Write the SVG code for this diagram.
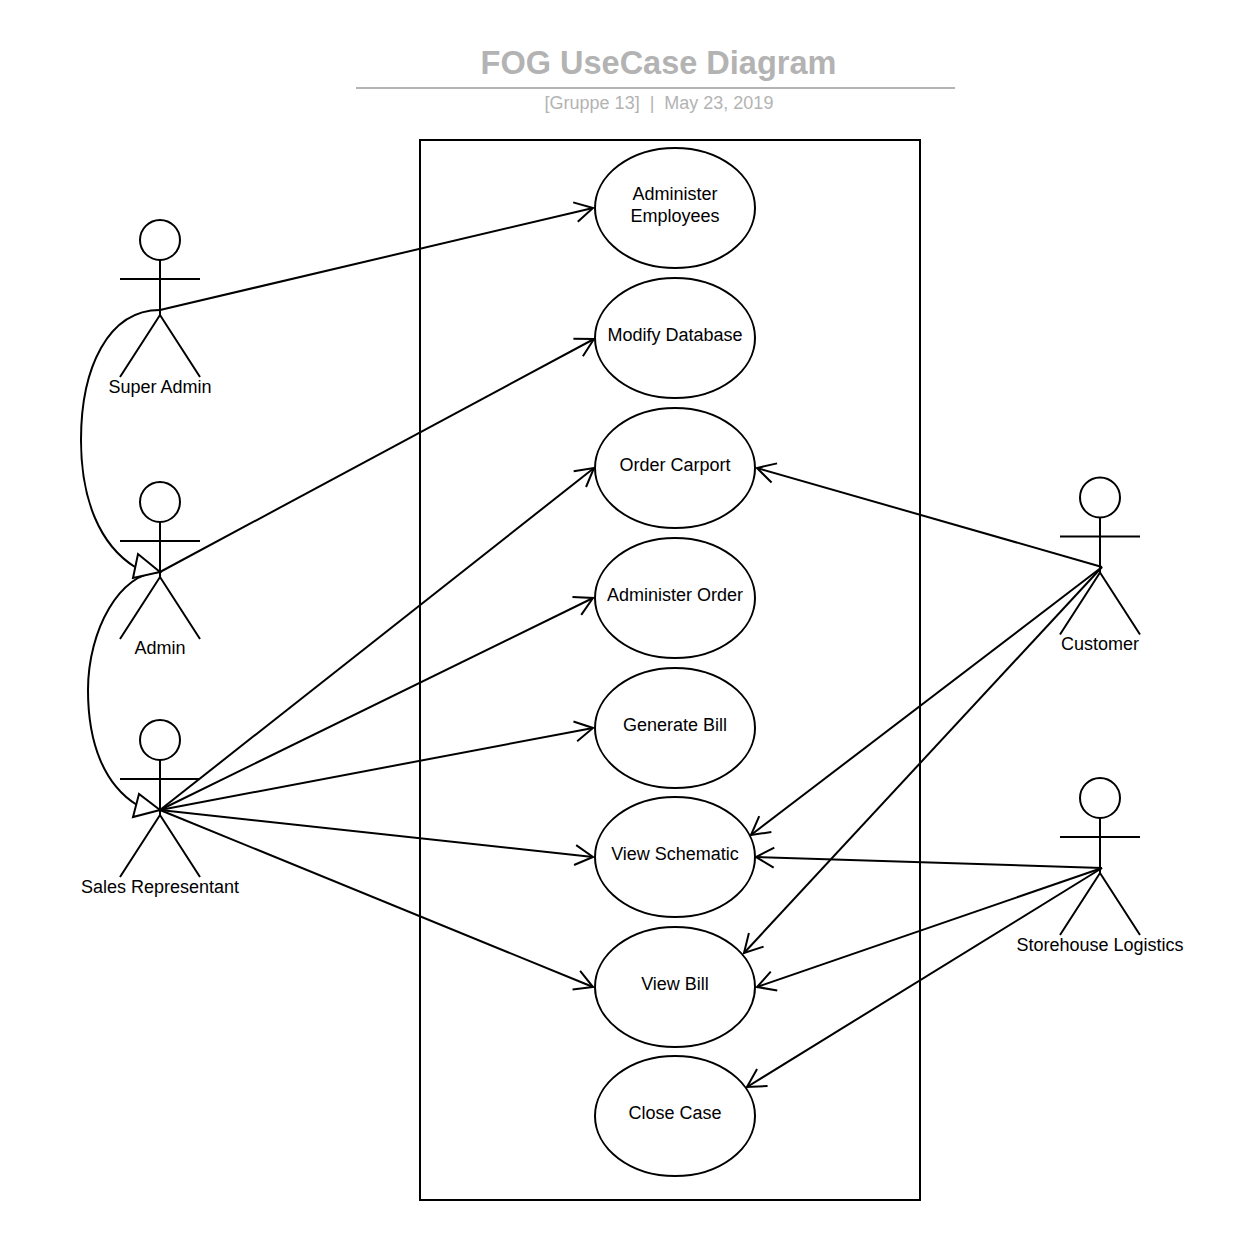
<svg xmlns="http://www.w3.org/2000/svg" width="1260" height="1240" viewBox="0 0 1260 1240">
<style>
text{font-family:"Liberation Sans",Arial,sans-serif;font-size:18px;fill:#000;text-anchor:middle}
.s{fill:none;stroke:#000;stroke-width:2}
.uc{fill:#fff;stroke:#000;stroke-width:2}
.a{fill:none;stroke:#000;stroke-width:2;marker-end:url(#open)}
.g{fill:none;stroke:#000;stroke-width:2}
.t{fill:#fff;stroke:#000;stroke-width:2}
</style>
<defs>
<marker id="open" markerUnits="userSpaceOnUse" markerWidth="24" markerHeight="28" refX="20" refY="14" orient="auto" viewBox="0 0 24 28">
<path d="M2 4L20 14L2 24" fill="none" stroke="#000" stroke-width="2"/>
</marker>
<g id="actor">
<circle cx="0" cy="-75" r="20" class="s"/>
<path d="M0 -55V0M-40 -36H40M-40 62L0 0L40 62" class="s"/>
</g>
</defs>
<rect width="1260" height="1240" fill="#fff"/>
<g id="title">
<text x="658.500" y="74" style="font-size:32.5px;font-weight:bold;fill:#b3b3b3">FOG UseCase Diagram</text>
<path d="M356 88H955" fill="none" stroke="#b3b3b3" stroke-width="2"/>
<text x="659" y="109" style="fill:#b3b3b3;white-space:pre">[Gruppe 13]  |  May 23, 2019</text>
</g>
<rect id="boundary" x="420" y="140" width="500" height="1060" class="s"/>
<g id="uc1"><ellipse cx="675" cy="208" rx="80" ry="60" class="uc"/><text x="675" y="200">Administer</text><text x="675" y="222">Employees</text></g>
<g id="uc2"><ellipse cx="675" cy="338" rx="80" ry="60" class="uc"/><text x="675" y="341">Modify Database</text></g>
<g id="uc3"><ellipse cx="675" cy="468" rx="80" ry="60" class="uc"/><text x="675" y="471">Order Carport</text></g>
<g id="uc4"><ellipse cx="675" cy="598" rx="80" ry="60" class="uc"/><text x="675" y="601">Administer Order</text></g>
<g id="uc5"><ellipse cx="675" cy="728" rx="80" ry="60" class="uc"/><text x="675" y="731">Generate Bill</text></g>
<g id="uc6"><ellipse cx="675" cy="857" rx="80" ry="60" class="uc"/><text x="675" y="860">View Schematic</text></g>
<g id="uc7"><ellipse cx="675" cy="987" rx="80" ry="60" class="uc"/><text x="675" y="990">View Bill</text></g>
<g id="uc8"><ellipse cx="675" cy="1116" rx="80" ry="60" class="uc"/><text x="675" y="1119">Close Case</text></g>
<g id="superadmin"><use href="#actor" x="160" y="315"/><text x="160" y="393">Super Admin</text></g>
<g id="admin"><use href="#actor" x="160" y="577"/><text x="160" y="654">Admin</text></g>
<g id="sales"><use href="#actor" x="160" y="815"/><text x="160" y="893">Sales Representant</text></g>
<g id="customer"><use href="#actor" x="1100" y="572.500"/><text x="1100" y="650">Customer</text></g>
<g id="storehouse"><use href="#actor" x="1100" y="873"/><text x="1100" y="951">Storehouse Logistics</text></g>
<g id="connectors">
<path class="g" d="M160 310C108 310 81 368 81 440C81 500 100 545 135 567"/>
<path class="g" d="M160 572C120 572 88 630 88 690C88 745 105 785 137 805"/>
<path class="t" d="M160 572L138 554L133 578Z"/>
<path class="t" d="M160 810L139 794L133 817Z"/>
<path class="a" d="M160 310L593 208"/>
<path class="a" d="M160 572L594 339"/>
<path class="a" d="M160 810L594 468"/>
<path class="a" d="M160 810L593 598"/>
<path class="a" d="M160 810L593 728"/>
<path class="a" d="M160 810L593 857"/>
<path class="a" d="M160 810L593 987"/>
<path class="a" d="M1102 567L757 468"/>
<path class="a" d="M1102 567L751 835"/>
<path class="a" d="M1102 567L744 953"/>
<path class="a" d="M1102 868L756 857"/>
<path class="a" d="M1102 868L757 987"/>
<path class="a" d="M1102 868L747 1087"/>
</g>
</svg>
